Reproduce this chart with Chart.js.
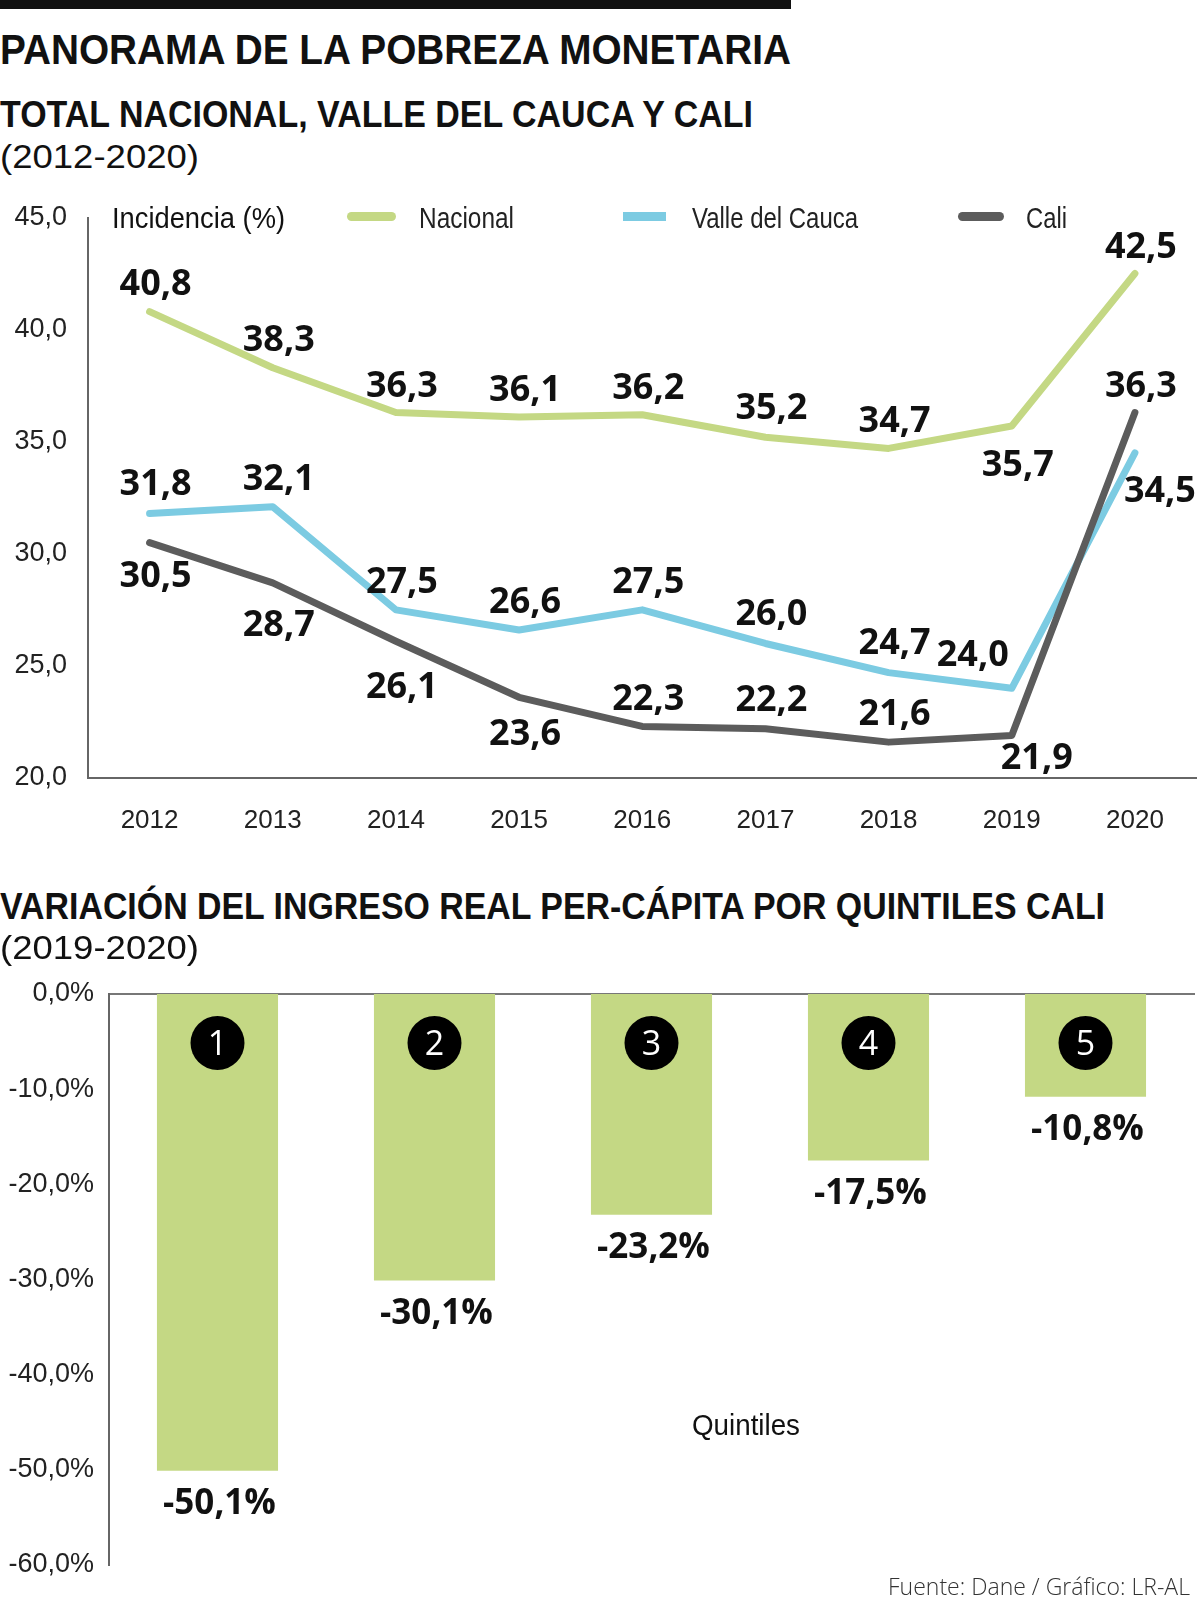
<!DOCTYPE html>
<html>
<head>
<meta charset="utf-8">
<script src="https://cdn.jsdelivr.net/npm/chart.js@4.4.1/dist/chart.umd.min.js"></script>
<style>
  html, body { margin: 0; padding: 0; background: #fff; }
  body { width: 1200px; height: 1599px; position: relative; overflow: hidden; color: #111; }
  .t { position: absolute; white-space: nowrap; transform-origin: 0 0; line-height: 1; }
  .sw { position: absolute; height: 9px; }
  canvas { position: absolute; left: 0; }
</style>
</head>
<body>
<div style="position:absolute;left:0;top:0;width:791px;height:9px;background:#111"></div>
<canvas id="lineChart" width="1200" height="650" style="top:190px;width:1200px;height:650px"></canvas>
<canvas id="barChart" width="1200" height="639" style="top:960px;width:1200px;height:639px"></canvas>
<div id="texts"></div>
<script>
// --- data ---
const years = ['2012', '2013', '2014', '2015', '2016', '2017', '2018', '2019', '2020'];
const nacional = [40.8, 38.3, 36.3, 36.1, 36.2, 35.2, 34.7, 35.7, 42.5];
const valle = [31.8, 32.1, 27.5, 26.6, 27.5, 26.0, 24.7, 24.0, 34.5];
const cali = [30.5, 28.7, 26.1, 23.6, 22.3, 22.2, 21.6, 21.9, 36.3];
const lineTicks = [20, 25, 30, 35, 40, 45];

const quintiles = ['1', '2', '3', '4', '5'];
const ingreso = [-50.1, -30.1, -23.2, -17.5, -10.8];
const barTicks = [-60, -50, -40, -30, -20, -10, 0];

// --- styles ---
const GREEN = '#c4d884';
const BLUE = '#7ccbe2';
const GREY = '#5c5c5c';
const NARROW = '"Liberation Sans Narrow", "Liberation Sans", sans-serif';
const BOLD = '"Open Sans", sans-serif';

const fmt = v => v.toFixed(1).replace('.', ',');

// label offsets (px) from each point
const nacDx = [6, 6, 6, 6, 6, 6, 6, 6, 6];
const nacDy = [-30, -30, -29, -29, -29, -31, -29, 37, -29];
const valDx = [6, 6, 6, 6, 6, 6, 6, -39, 25];
const valDy = [-31, -30, -30, -30, -30, -31, -32, -35, 36];
const calDx = [6, 6, 6, 6, 6, 6, 6, 25, 6];
const calDy = [31, 40, 44, 35, -29, -31, -30, 21, -29];

const lineLabels = {
  id: 'lineLabels',
  afterDatasetsDraw(chart) {
    const ctx = chart.ctx;
    ctx.save();
    ctx.font = '700 36px ' + BOLD;
    ctx.fillStyle = '#111';
    ctx.textAlign = 'center';
    ctx.textBaseline = 'alphabetic';
    chart.data.datasets.forEach((ds, i) => {
      chart.getDatasetMeta(i).data.forEach((pt, j) => {
        ctx.fillText(fmt(ds.data[j]), pt.x + ds.labelDx[j], pt.y + ds.labelDy[j] + 13);
      });
    });
    ctx.restore();
  }
};

const yFont = { family: NARROW, size: 27, lineHeight: 1 };
const xFont = { family: NARROW, size: 26, lineHeight: 1 };

const lineCanvas = document.getElementById('lineChart');
const lineChart = new Chart(lineCanvas, {
  type: 'line',
  data: {
    labels: years,
    datasets: [
      { label: 'Nacional', data: nacional, borderColor: GREEN, order: 2, labelDx: nacDx, labelDy: nacDy },
      { label: 'Valle del Cauca', data: valle, borderColor: BLUE, order: 1, labelDx: valDx, labelDy: valDy },
      { label: 'Cali', data: cali, borderColor: GREY, order: 0, labelDx: calDx, labelDy: calDy }
    ]
  },
  options: {
    responsive: false,
    maintainAspectRatio: false,
    animation: false,
    layout: { padding: { top: 28, right: 3, left: 0, bottom: 0 } },
    elements: {
      point: { radius: 0, hoverRadius: 0 },
      line: { borderWidth: 7, tension: 0, borderJoinStyle: 'round', borderCapStyle: 'round', fill: false }
    },
    plugins: { legend: { display: false }, tooltip: { enabled: false } },
    scales: {
      x: {
        offset: true,
        grid: { display: false, drawTicks: false },
        border: { display: true, color: '#666', width: 2 },
        ticks: { padding: 30, font: xFont, color: '#222' },
        afterFit: s => { s.height = 62; }
      },
      y: {
        min: 20, max: 45,
        grid: { display: false, drawTicks: false },
        border: { display: true, color: '#666', width: 2 },
        ticks: { padding: 21, font: yFont, color: '#222', callback: v => fmt(v) },
        afterBuildTicks: s => { s.ticks = lineTicks.map(v => ({ value: v })); },
        afterFit: s => { s.width = 88; }
      }
    }
  },
  plugins: [lineLabels]
});

// keep the plot area top at y=218 on the page
const excess = Math.round(lineChart.chartArea.top - 28);
if (excess > 0) {
  lineCanvas.style.top = (190 - excess) + 'px';
  lineCanvas.style.height = (650 + excess) + 'px';
  lineChart.resize(1200, 650 + excess);
}

const barLabels = {
  id: 'barLabels',
  afterDatasetsDraw(chart) {
    const ctx = chart.ctx;
    const top = chart.chartArea.top;
    ctx.save();
    ctx.textAlign = 'center';
    ctx.textBaseline = 'alphabetic';
    chart.getDatasetMeta(0).data.forEach((bar, j) => {
      ctx.fillStyle = '#000';
      ctx.beginPath();
      ctx.arc(bar.x, top + 49, 27, 0, Math.PI * 2);
      ctx.fill();
      ctx.fillStyle = '#fff';
      ctx.font = '400 34px ' + BOLD;
      ctx.fillText(chart.data.labels[j], bar.x, top + 49 + 12);
      ctx.fillStyle = '#111';
      ctx.font = '700 35px ' + BOLD;
      ctx.fillText(fmt(chart.data.datasets[0].data[j]) + '%', bar.x + 2, bar.y + 31 + 12.5);
    });
    ctx.restore();
  }
};

new Chart(document.getElementById('barChart'), {
  type: 'bar',
  data: {
    labels: quintiles,
    datasets: [{ data: ingreso, backgroundColor: GREEN, barPercentage: 0.558, categoryPercentage: 1 }]
  },
  options: {
    responsive: false,
    maintainAspectRatio: false,
    animation: false,
    layout: { padding: { top: 34, right: 6, left: 0, bottom: 34 } },
    plugins: { legend: { display: false }, tooltip: { enabled: false } },
    scales: {
      x: {
        position: 'top',
        grid: { display: false, drawTicks: false },
        border: { display: true, color: '#777', width: 2 },
        ticks: { display: false },
        afterFit: s => { s.height = 0; }
      },
      y: {
        min: -60, max: 0,
        grid: { display: false, drawTicks: false },
        border: { display: true, color: '#666', width: 2 },
        ticks: { padding: 15, font: yFont, color: '#222', callback: v => fmt(v) + '%' },
        afterBuildTicks: s => { s.ticks = barTicks.map(v => ({ value: v })); },
        afterFit: s => { s.width = 109; }
      }
    }
  },
  plugins: [barLabels]
});

// --- texts: [text, left, centerY, width, weight, size, family, color] ---
const texts = [
  ['PANORAMA DE LA POBREZA MONETARIA', 0, 49, 791, 700, 43, NARROW, '#111'],
  ['TOTAL NACIONAL, VALLE DEL CAUCA Y CALI', 0, 114, 753, 700, 36, NARROW, '#111'],
  ['(2012-2020)', 0, 155, 199, 400, 34, NARROW, '#111'],
  ['VARIACIÓN DEL INGRESO REAL PER-CÁPITA POR QUINTILES CALI', 0, 906, 1105, 700, 36, NARROW, '#111'],
  ['(2019-2020)', 0, 946, 199, 400, 34, NARROW, '#111'],
  ['Incidencia (%)', 112, 217, 173, 400, 30, NARROW, '#111'],
  ['Nacional', 419, 217, 95, 400, 30, NARROW, '#222'],
  ['Valle del Cauca', 692, 217, 166, 400, 30, NARROW, '#222'],
  ['Cali', 1026, 217, 41, 400, 30, NARROW, '#222'],
  ['Quintiles', 692, 1424, 108, 400, 30, NARROW, '#111'],
  ['Fuente: Dane / Gráfico: LR-AL', 888, 1587, 302, 300, 23, BOLD, '#333']
];
const host = document.getElementById('texts');
texts.forEach(([txt, left, cy, w, weight, size, fam, color]) => {
  const el = document.createElement('div');
  el.className = 't';
  el.textContent = txt;
  el.style.left = left + 'px';
  el.style.fontFamily = fam;
  el.style.fontWeight = weight;
  el.style.fontSize = size + 'px';
  el.style.color = color;
  const k = fam === BOLD ? 0.53 : 0.48;
  el.style.top = (cy - k * size) + 'px';
  host.appendChild(el);
  const real = el.getBoundingClientRect().width;
  el.style.transform = 'scaleX(' + (w / real) + ')';
});

// legend swatches
const swatches = [[347, 49, GREEN, 5], [623, 43, BLUE, 0], [958, 46, GREY, 5]];
swatches.forEach(([left, w, color, r]) => {
  const el = document.createElement('div');
  el.className = 'sw';
  el.style.left = left + 'px';
  el.style.top = '212px';
  el.style.width = w + 'px';
  el.style.background = color;
  el.style.borderRadius = r + 'px';
  host.appendChild(el);
});
</script>
</body>
</html>
